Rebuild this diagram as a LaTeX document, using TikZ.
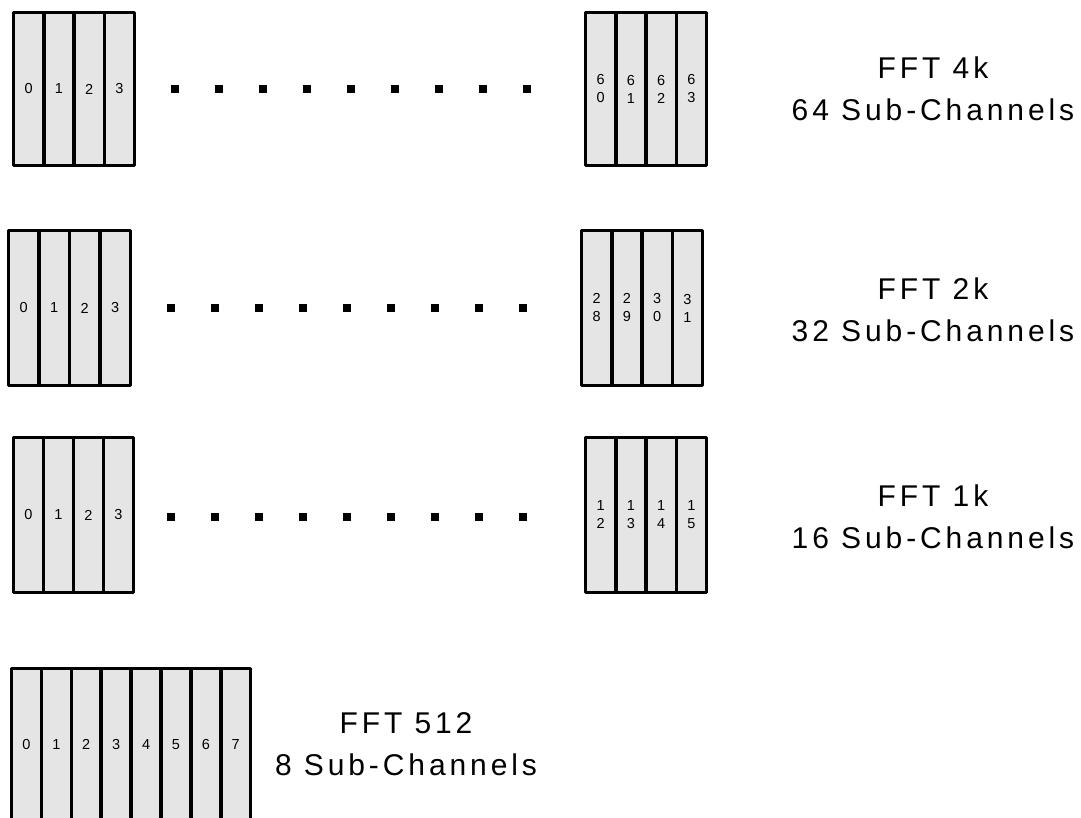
\documentclass[tikz,border=0pt]{standalone}
\usepackage{fontspec}
\setmainfont{Liberation Sans}
\newfontfamily\lblfont[LetterSpace=13]{Liberation Sans}
\definecolor{chgray}{HTML}{E5E5E5}
\tikzset{
  chan/.style={draw=black, line width=3.5pt, line join=round, fill=chgray,
    minimum width=30.25pt, inner sep=0pt, align=center,
    font=\fontsize{14.5}{18}\selectfont},
  sqdot/.style={fill=black, minimum size=8pt, inner sep=0pt},
  fftlbl/.style={align=center, font=\lblfont\fontsize{30}{42}\selectfont}
}
\begin{document}
\begin{tikzpicture}[x=1pt, y=-1pt]
\useasboundingbox (0,0) rectangle (1081,818);
\clip (0,0) rectangle (1081,818);
% row 1
\foreach \l [count=\i from 0] in {0,1,2,3}
  \node[chan, minimum height=153pt] (r1L\i) at (13.5+30.25*\i+15.125, 89) {\l};
\foreach \l [count=\i from 0] in {6\\0,6\\1,6\\2,6\\3}
  \node[chan, minimum height=153pt] (r1R\i) at (585.5+30.25*\i+15.125, 89) {\l};
\foreach \k in {0,...,8}
  \node[sqdot] (d1\k) at (175+44*\k, 89) {};
\node[fftlbl] (t1) at (933, 89) {FFT 4k\\64 Sub-Channels};
% row 2
\foreach \l [count=\i from 0] in {0,1,2,3}
  \node[chan, minimum height=155pt] (r2L\i) at (8.5+30.5*\i+15.25, 308) {\l};
\foreach \l [count=\i from 0] in {2\\8,2\\9,3\\0,3\\1}
  \node[chan, minimum height=155pt] (r2R\i) at (581.5+30.25*\i+15.125, 308) {\l};
\foreach \k in {0,...,8}
  \node[sqdot] (d2\k) at (171+44*\k, 308) {};
\node[fftlbl] (t2) at (933, 310) {FFT 2k\\32 Sub-Channels};
% row 3
\foreach \l [count=\i from 0] in {0,1,2,3}
  \node[chan, minimum height=155pt] (r3L\i) at (13.5+30*\i+15, 515) {\l};
\foreach \l [count=\i from 0] in {1\\2,1\\3,1\\4,1\\5}
  \node[chan, minimum height=155pt] (r3R\i) at (585.5+30.25*\i+15.125, 515) {\l};
\foreach \k in {0,...,8}
  \node[sqdot] (d3\k) at (171+44*\k, 517) {};
\node[fftlbl] (t3) at (933, 517) {FFT 1k\\16 Sub-Channels};
% row 4
\foreach \l [count=\i from 0] in {0,1,2,3,4,5,6,7}
  \node[chan, minimum height=152pt, minimum width=29.9pt] (r4C\i) at (11.5+29.9*\i+14.95, 744.5) {\l};
\node[fftlbl] (t4) at (406, 744) {FFT 512\\8 Sub-Channels};
\end{tikzpicture}
\end{document}
